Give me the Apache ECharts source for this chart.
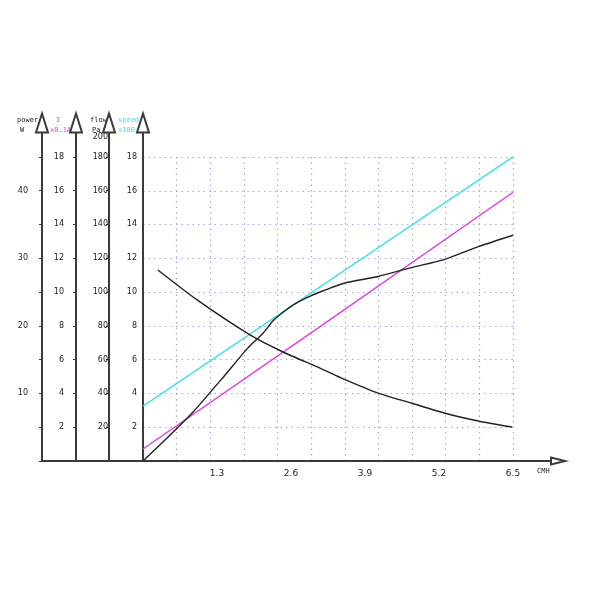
<!DOCTYPE html>
<html><head><meta charset="utf-8">
<script src="https://cdn.jsdelivr.net/npm/echarts@6/dist/echarts.min.js"></script>
<style>html,body{margin:0;padding:0;background:#fff}#c{width:600px;height:600px}</style>
</head><body><div id="c"></div><script>
// pressure (Pa) vs flow (CMH)
const flowX  = [0.26, 0.95, 1.88, 2.46, 3.11, 3.53, 4.13, 4.71, 5.29, 5.89, 6.48];
const flowPa = [113, 95.3, 74.6, 64.5, 55.0, 48.5, 40.2, 34.3, 28.4, 23.7, 20.1];
// power (W) vs flow
const powerX = [0, 0.44, 0.88, 1.41, 1.84, 2.11, 2.28, 2.46, 2.64, 2.86, 3.11, 3.53, 4.13, 4.71, 5.29, 5.89, 6.5];
const powerW = [0, 3.55, 7.25, 12.4, 16.7, 18.9, 20.7, 22.0, 23.1, 24.1, 25.0, 26.3, 27.3, 28.6, 29.8, 31.7, 33.4];
// current (x0.1A)
const currentX = [0, 3.11, 6.5];
const currentI = [0.71, 7.95, 15.9];
// speed (x100)
const speedX = [0, 6.5];
const speedV = [3.25, 18];
// tick labels
const xTickLabels = [1.3, 2.6, 3.9, 5.2, 6.5];
const speedTicks = [2, 4, 6, 8, 10, 12, 14, 16, 18];
const currentTicks = [2, 4, 6, 8, 10, 12, 14, 16, 18];
const flowTicks = [20, 40, 60, 80, 100, 120, 140, 160, 180, 200];
const powerTicks = [10, 20, 30, 40];

const pairs = (xs, ys) => xs.map((x, i) => [x, ys[i]]);
const AX = '#3a3a3a';
const GRIDC = '#a9a9de';
const CYAN = '#3fe3e3';
const MAG = '#e03ee0';
const FONT = 'DejaVu Sans';
const NAMEFONT = '7px "DejaVu Sans Mono"';

function yAxisBase(offset, max, interval, ticks, margin, showTick, extra) {
  return Object.assign({
    type: 'value', gridIndex: 0, position: 'left', offset: offset,
    min: 0, max: max, interval: interval,
    axisLine: { show: true, onZero: false, lineStyle: { color: AX, width: 2 },
      symbol: ['none', 'emptyTriangle'], symbolSize: [12, 19] },
    axisTick: { show: showTick, length: 3, lineStyle: { color: AX, width: 1 } },
    axisLabel: { margin: margin, fontSize: 8, fontFamily: FONT, color: '#222',
      formatter: v => ticks.includes(v) ? String(v) : '' },
    splitLine: { show: false }
  }, extra || {});
}

const chart = echarts.init(document.getElementById('c'), null, { renderer: 'canvas' });
chart.setOption({
  animation: false,
  backgroundColor: '#fff',
  grid: [
    { left: 143, top: 123, width: 370, height: 338 },
    { left: 42, top: 123, width: 516, height: 338 },
    { left: 143, top: 157, width: 370, height: 304 }
  ],
  xAxis: [
    { type: 'value', gridIndex: 0, min: 0, max: 6.5, interval: 1.3,
      axisLine: { show: false }, axisTick: { show: false }, splitLine: { show: false },
      axisLabel: { margin: 8, fontSize: 9, fontFamily: FONT, color: '#222',
        formatter: v => xTickLabels.some(t => Math.abs(t - v) < 1e-6) ? v.toFixed(1) : '' } },
    { type: 'value', gridIndex: 1, min: 0, max: 1,
      axisLine: { show: true, onZero: false, lineStyle: { color: AX, width: 2 },
        symbol: ['none', 'emptyTriangle'], symbolSize: [7, 14] },
      axisTick: { show: false }, axisLabel: { show: false }, splitLine: { show: false } },
    { type: 'value', gridIndex: 2, min: 0, max: 11, interval: 1,
      axisLine: { show: false }, axisTick: { show: false }, axisLabel: { show: false },
      splitLine: { show: true, showMinLine: false, showMaxLine: true,
        lineStyle: { color: GRIDC, width: 1.2, type: [1.5, 4] } } }
  ],
  yAxis: [
    yAxisBase(0, 20, 2, speedTicks, 6, false),
    yAxisBase(34, 200, 20, flowTicks, 2, true, {
      axisLabel: { margin: 1, fontSize: 8, fontFamily: FONT, color: '#222',
        formatter: v => v === 200 ? '{t|200}' : (flowTicks.includes(v) ? String(v) : ''),
        rich: { t: { fontSize: 8, fontFamily: FONT, color: '#222', padding: [28, 0, 0, 0] } } } }),
    yAxisBase(67, 20, 2, currentTicks, 12, true, {
      axisLabel: { margin: 12, fontSize: 8, fontFamily: FONT, color: '#222', padding: [3, 0, 0, 0],
        formatter: v => currentTicks.includes(v) ? String(v) : '' } }),
    yAxisBase(101, 50, 5, powerTicks, 14, true),
    { type: 'value', gridIndex: 1, min: 0, max: 1, show: false },
    { type: 'value', gridIndex: 2, min: 0, max: 9, interval: 1,
      axisLine: { show: false }, axisTick: { show: false }, axisLabel: { show: false },
      splitLine: { show: true, showMinLine: false, showMaxLine: true,
        lineStyle: { color: GRIDC, width: 1.2, type: [1.5, 4] } } }
  ],
  series: [
    { name: 'speed', type: 'line', xAxisIndex: 0, yAxisIndex: 0, data: pairs(speedX, speedV),
      showSymbol: false, lineStyle: { color: CYAN, width: 1.4 }, z: 3 },
    { name: 'I', type: 'line', xAxisIndex: 0, yAxisIndex: 2, data: pairs(currentX, currentI),
      showSymbol: false, lineStyle: { color: MAG, width: 1.4 }, z: 3 },
    { name: 'power', type: 'line', xAxisIndex: 0, yAxisIndex: 3, data: pairs(powerX, powerW),
      showSymbol: false, smooth: 0.2, lineStyle: { color: '#222', width: 1.4 }, z: 4 },
    { name: 'flow', type: 'line', xAxisIndex: 0, yAxisIndex: 1, data: pairs(flowX, flowPa),
      showSymbol: false, smooth: 0.2, lineStyle: { color: '#222', width: 1.4 }, z: 4 }
  ],
  graphic: [
    { type: 'text', left: 17, top: 117, style: { text: 'power', font: NAMEFONT, fill: '#222' } },
    { type: 'text', left: 20, top: 127, style: { text: 'W', font: NAMEFONT, fill: '#222' } },
    { type: 'text', left: 56, top: 117, style: { text: 'I', font: NAMEFONT, fill: MAG } },
    { type: 'text', left: 50, top: 127, style: { text: 'x0.1A', font: NAMEFONT, fill: MAG } },
    { type: 'text', left: 90, top: 117, style: { text: 'flow', font: NAMEFONT, fill: '#222' } },
    { type: 'text', left: 92, top: 127, style: { text: 'Pa', font: NAMEFONT, fill: '#222' } },
    { type: 'text', left: 118, top: 117, style: { text: 'speed', font: NAMEFONT, fill: CYAN } },
    { type: 'text', left: 118, top: 127, style: { text: 'x100', font: NAMEFONT, fill: CYAN } },
    { type: 'text', left: 537, top: 468, style: { text: 'CMH', font: NAMEFONT, fill: '#222' } }
  ]
});
</script></body></html>
